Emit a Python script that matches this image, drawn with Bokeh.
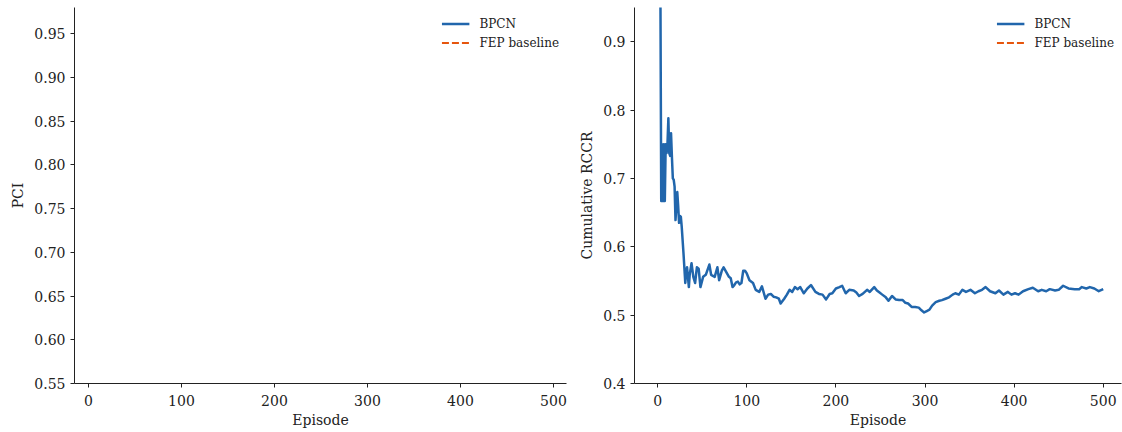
from bokeh.plotting import figure
from bokeh.layouts import row
from bokeh.models import FixedTicker, PrintfTickFormatter, Legend, LegendItem
from bokeh.embed import file_html
from bokeh.resources import INLINE

NAN = float("nan")

# ---------------- data ----------------
series_names = ["BPCN", "FEP baseline"]
x_ticks = [0, 100, 200, 300, 400, 500]
pci_y_ticks = [0.55, 0.60, 0.65, 0.70, 0.75, 0.80, 0.85, 0.90, 0.95]
rccr_y_ticks = [0.4, 0.5, 0.6, 0.7, 0.8, 0.9]

# PCI panel: no visible values for either series
pci_bpcn_ep = [0]
pci_bpcn = [NAN]
pci_fep_ep = [0]
pci_fep = [NAN]

# Cumulative RCCR (BPCN)
rccr_ep = [0, 3, 4, 5, 6, 7, 8, 9, 10, 11, 12, 13, 14, 15, 16, 17, 18, 19, 20, 21,
           22, 23, 24, 25, 26, 27, 29, 31, 32, 33, 35, 36, 38, 40, 42, 44, 46, 48, 51, 54,
           58, 60, 64, 67, 69, 72, 74, 77, 80, 82, 84, 86, 88, 90, 92, 94, 96, 98, 100, 103,
           107, 110, 114, 117, 121, 124, 127, 130, 133, 136, 138, 142, 145, 148, 151, 154, 157, 160, 164, 168,
           172, 177, 181, 185, 189, 193, 196, 200, 204, 207, 211, 215, 220, 223, 226, 230, 235, 238, 243, 246,
           249, 252, 256, 259, 263, 267, 271, 275, 278, 281, 285, 289, 293, 296, 299, 302, 305, 308, 312, 316,
           319, 323, 327, 331, 334, 338, 342, 346, 351, 356, 360, 364, 368, 373, 379, 383, 388, 393, 397, 401,
           405, 410, 416, 421, 427, 431, 436, 440, 446, 450, 455, 461, 468, 473, 476, 481, 485, 490, 495, 500]
rccr_bpcn = [1.0, 1.0, 0.667, 0.75, 0.667, 0.75, 0.667, 0.75, 0.737, 0.75, 0.788, 0.737, 0.733, 0.766, 0.731, 0.70, 0.698, 0.688, 0.639, 0.66,
             0.68, 0.66, 0.635, 0.645, 0.644, 0.629, 0.59, 0.547, 0.565, 0.570, 0.541, 0.56, 0.576, 0.556, 0.547, 0.570, 0.568, 0.541, 0.556, 0.559,
             0.574, 0.559, 0.556, 0.570, 0.551, 0.565, 0.570, 0.563, 0.556, 0.554, 0.541, 0.544, 0.548, 0.549, 0.545, 0.547, 0.565, 0.565, 0.561, 0.551,
             0.547, 0.537, 0.534, 0.542, 0.524, 0.530, 0.531, 0.527, 0.526, 0.524, 0.517, 0.524, 0.530, 0.537, 0.534, 0.541, 0.538, 0.541, 0.532, 0.539,
             0.544, 0.534, 0.531, 0.530, 0.523, 0.531, 0.532, 0.539, 0.541, 0.543, 0.532, 0.537, 0.536, 0.533, 0.528, 0.531, 0.537, 0.534, 0.541, 0.536,
             0.533, 0.530, 0.526, 0.521, 0.528, 0.523, 0.522, 0.522, 0.518, 0.517, 0.512, 0.512, 0.511, 0.507, 0.504, 0.506, 0.508, 0.514, 0.519, 0.521,
             0.522, 0.524, 0.526, 0.530, 0.532, 0.530, 0.537, 0.534, 0.537, 0.532, 0.535, 0.537, 0.541, 0.535, 0.532, 0.536, 0.530, 0.534, 0.530, 0.532,
             0.530, 0.535, 0.538, 0.540, 0.535, 0.537, 0.535, 0.538, 0.536, 0.537, 0.543, 0.539, 0.538, 0.538, 0.541, 0.539, 0.541, 0.539, 0.535, 0.538]
# FEP baseline RCCR: not visible in the panel
rccr_fep_ep = [0]
rccr_fep = [NAN]

# ---------------- style ----------------
FONT = "DejaVu Serif"
BLUE = "#2166ac"
ORANGE = "#e6550d"
AXIS_COLOR = "#222222"


def style(p, xlabel, ylabel, yticks, yfmt):
    p.outline_line_color = None
    p.xgrid.visible = False
    p.ygrid.visible = False
    p.background_fill_color = "white"
    p.border_fill_color = "white"
    p.xaxis.ticker = FixedTicker(ticks=x_ticks)
    p.yaxis.ticker = FixedTicker(ticks=yticks)
    p.yaxis.formatter = PrintfTickFormatter(format=yfmt)
    p.xaxis.axis_label = xlabel
    p.yaxis.axis_label = ylabel
    for ax in (p.xaxis, p.yaxis):
        ax.axis_label_text_font = FONT
        ax.axis_label_text_font_size = "14px"
        ax.axis_label_text_font_style = "normal"
        ax.axis_label_text_color = AXIS_COLOR
        ax.major_label_text_font = FONT
        ax.major_label_text_font_size = "14px"
        ax.major_label_text_color = AXIS_COLOR
        ax.axis_line_color = AXIS_COLOR
        ax.axis_line_width = 1
        ax.major_tick_line_color = AXIS_COLOR
        ax.major_tick_out = 4
        ax.major_tick_in = 0
        ax.minor_tick_line_color = None
    p.xaxis.major_label_standoff = 7
    p.xaxis.axis_label_standoff = 3
    p.yaxis.major_label_standoff = 5
    p.yaxis.axis_label_standoff = 5


def add_legend(p, r1, r2):
    leg = Legend(items=[LegendItem(label=series_names[0], renderers=[r1]),
                        LegendItem(label=series_names[1], renderers=[r2])],
                 location="top_right")
    leg.label_text_font = FONT
    leg.label_text_font_size = "12px"
    leg.label_text_color = AXIS_COLOR
    leg.border_line_color = None
    leg.background_fill_alpha = 0
    leg.margin = 7
    leg.padding = 5
    leg.spacing = 0
    leg.glyph_width = 28
    leg.glyph_height = 19
    leg.label_height = 19
    leg.label_width = 20
    leg.label_standoff = 10
    p.add_layout(leg)


H = 432
TOP = 7
BOTTOM = 49

# ---------------- left: PCI ----------------
p1 = figure(width=576, height=H, x_range=(-15, 514), y_range=(0.55, 0.98),
            output_backend="svg", toolbar_location=None,
            min_border_left=74, min_border_right=10, min_border_top=TOP, min_border_bottom=BOTTOM)
style(p1, "Episode", "PCI", pci_y_ticks, "%.2f")
a1 = p1.line(pci_bpcn_ep, pci_bpcn, line_color=BLUE, line_width=2.5)
a2 = p1.line(pci_fep_ep, pci_fep, line_color=ORANGE, line_width=2, line_dash="7 3")
add_legend(p1, a1, a2)

# ---------------- right: Cumulative RCCR ----------------
p2 = figure(width=546, height=H, x_range=(-26, 520.5), y_range=(0.4, 0.95),
            output_backend="svg", toolbar_location=None,
            min_border_left=55, min_border_right=1, min_border_top=TOP, min_border_bottom=BOTTOM)
style(p2, "Episode", "Cumulative RCCR", rccr_y_ticks, "%.1f")
b1 = p2.line(rccr_ep, rccr_bpcn, line_color=BLUE, line_width=2.5, line_join="round")
b2 = p2.line(rccr_fep_ep, rccr_fep, line_color=ORANGE, line_width=2, line_dash="7 3")
add_legend(p2, b1, b2)

layout = row(p1, p2)
open("out.html", "w").write(file_html(layout, INLINE))
